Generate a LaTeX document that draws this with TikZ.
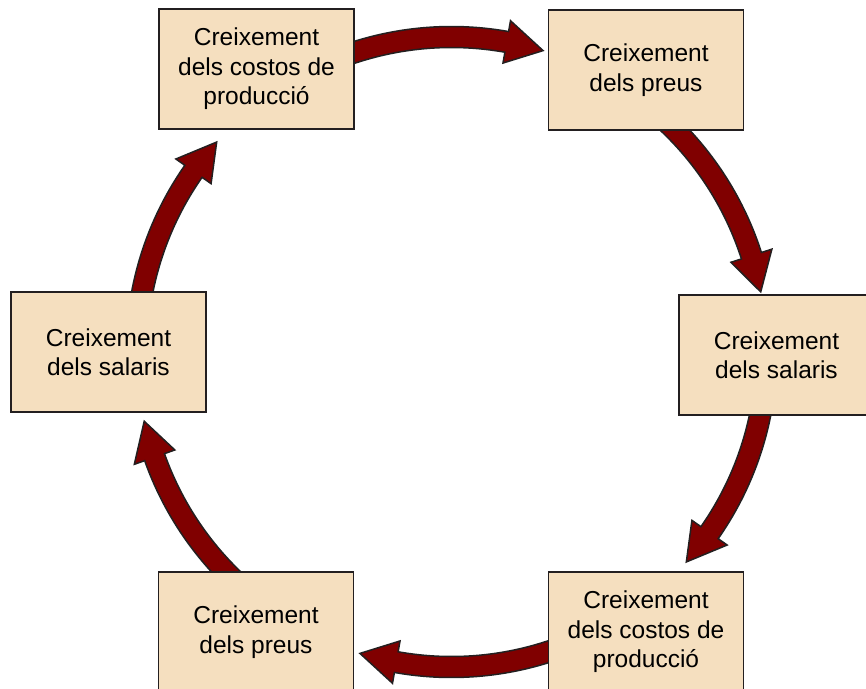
\documentclass[tikz,border=0pt]{standalone}
\usepackage{fontspec}
\setmainfont{Liberation Sans}
\usetikzlibrary{calc}
\definecolor{boxfill}{RGB}{245,223,191}
\definecolor{arrowfill}{RGB}{128,0,0}
\definecolor{inkline}{RGB}{35,31,32}
\tikzset{
  stagebox/.style={draw=inkline, line width=1.8pt, fill=boxfill, minimum width=195pt, minimum height=120pt,
    align=center, inner sep=0pt, font=\fontsize{24.5pt}{29.5pt}\selectfont},
  ringarrowstyle/.style={draw=inkline, line width=1.5pt, fill=arrowfill, line join=miter}
}
\newcommand\ringarrow[2]{%
  \pgfmathsetmacro\hbase{#2+6.8}%
  \draw[ringarrowstyle] ($(ctr)+(#1:325.5pt)$) arc[start angle=#1, end angle=\hbase, radius=325.5pt]
    -- ($(ctr)+(\hbase:336.5pt)$) -- ($(ctr)+(#2:315pt)$) -- ($(ctr)+(\hbase:293.5pt)$)
    -- ($(ctr)+(\hbase:304.5pt)$) arc[start angle=\hbase, end angle=#1, radius=304.5pt] -- cycle;}
\begin{document}
\begin{tikzpicture}[x=1pt,y=1pt]
\useasboundingbox (0,0) rectangle (866,-688);
\coordinate (ctr) at (451.5,-352);
% connectors (drawn beneath the boxes)
\ringarrow{110}{73.1}
\ringarrow{47}{11}
\ringarrow{-8}{-41.8}
\ringarrow{-69}{-106.9}
\ringarrow{-131}{-167.3}
\ringarrow{172}{138.2}
% boxes
\node[stagebox] (costs1) at (256.5,-69) {Creixement\\dels costos de\\producció};
\node[stagebox] (prices1) at (646,-70) {Creixement\\dels preus};
\node[stagebox] (wages1) at (776.5,-355) {Creixement\\dels salaris};
\node[stagebox] (costs2) at (646,-632) {Creixement\\dels costos de\\producció};
\node[stagebox] (prices2) at (256,-632) {Creixement\\dels preus};
\node[stagebox] (wages2) at (108.5,-352) {Creixement\\dels salaris};
\end{tikzpicture}
\end{document}
